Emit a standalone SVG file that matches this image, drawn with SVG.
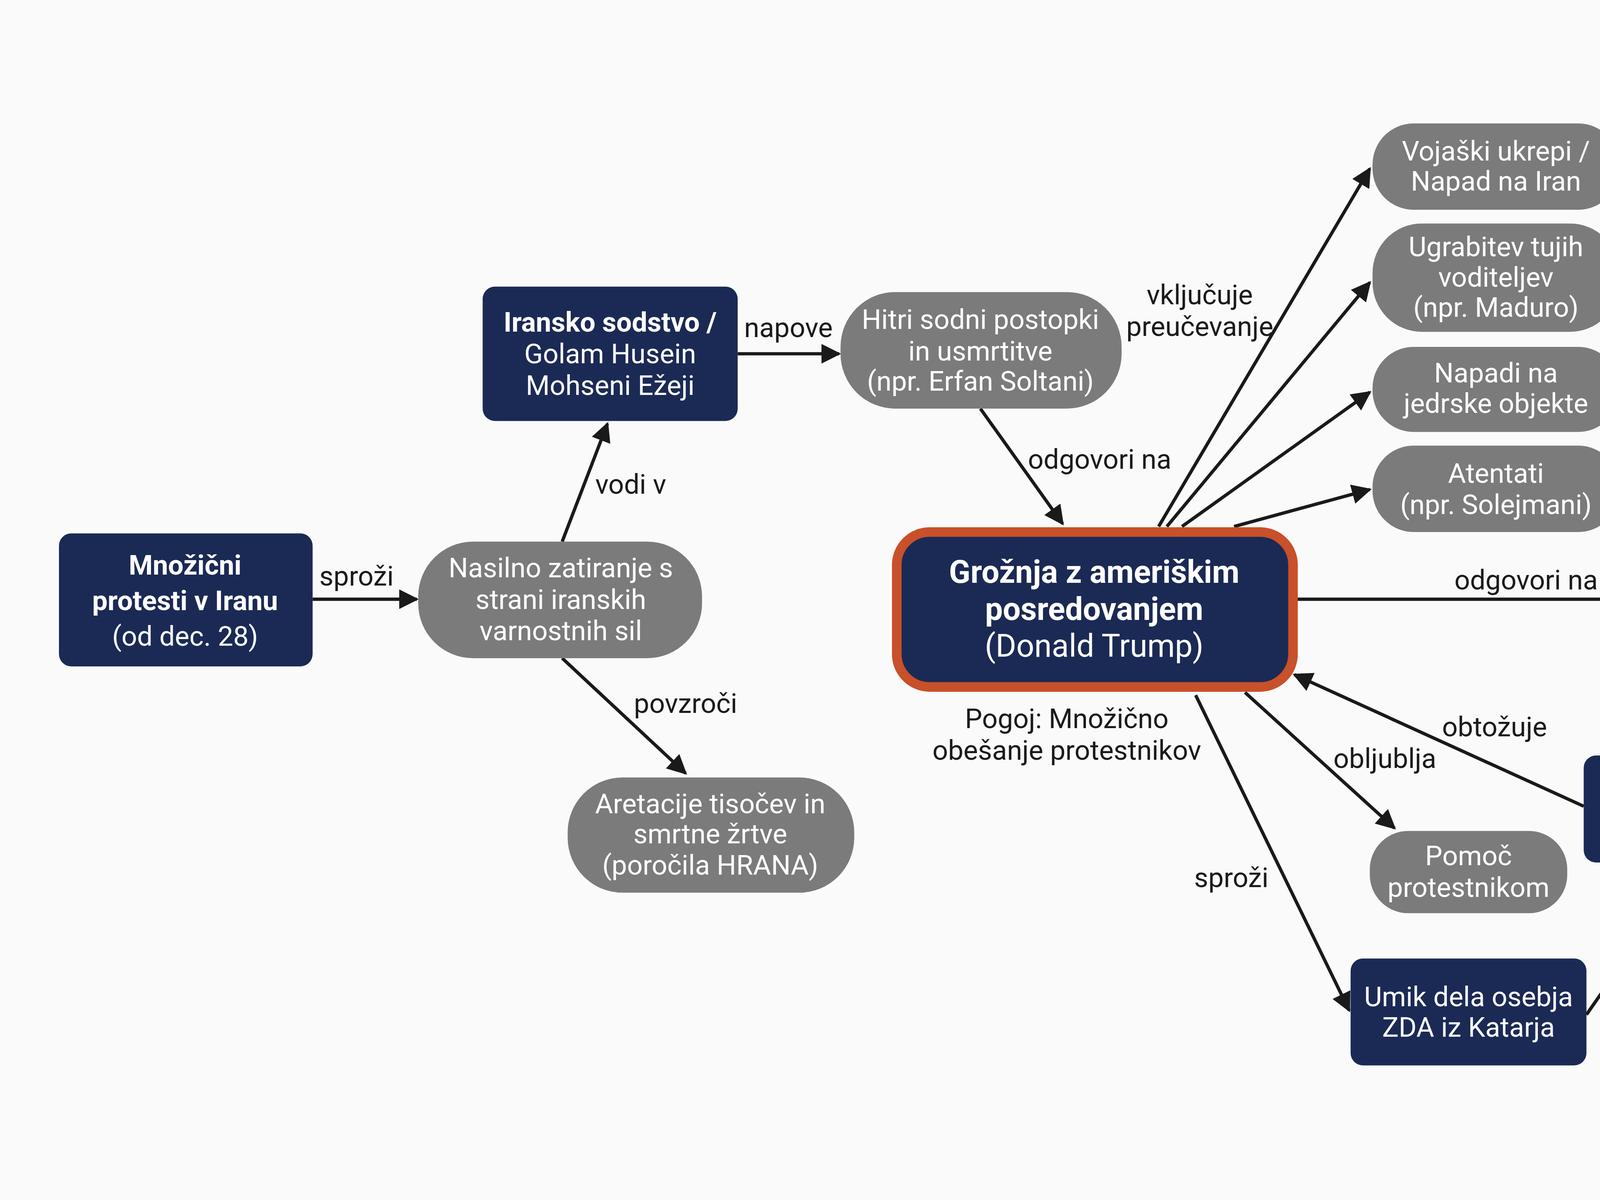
<svg xmlns="http://www.w3.org/2000/svg" width="5504" height="3072" viewBox="0 0 5504 3072">
<style>
.d{fill:#1b2a55}
.g{fill:#7b7b7b}
text{font-family:Roboto,"Liberation Sans",sans-serif;font-size:20px;text-anchor:middle}
.w{fill:#fff}
.b{font-weight:bold}
.l{fill:#1a1a1a}
.e{stroke:#1a1a1a;stroke-width:2.4;fill:none;marker-end:url(#a)}
</style>
<defs>
<marker id="a" viewBox="0 0 10 10" refX="9" refY="5" markerWidth="6" markerHeight="6" orient="auto" markerUnits="strokeWidth">
<path d="M0,0 L10,5 L0,10 z" fill="#1a1a1a"/>
</marker>
</defs>
<rect width="5504" height="3072" fill="#fafafa"/>
<g transform="scale(3.5102)">
<g id="connectors">
<line class="e" x1="228" y1="437" x2="304" y2="437"/>
<line class="e" x1="410" y1="395" x2="443" y2="309"/>
<line class="e" x1="410" y1="480" x2="500" y2="564"/>
<line class="e" x1="538" y1="258" x2="612" y2="258"/>
<line class="e" x1="715" y1="298" x2="775" y2="382"/>
<line class="e" x1="845" y1="384" x2="999" y2="123"/>
<line class="e" x1="851" y1="384" x2="999" y2="206"/>
<line class="e" x1="862" y1="384" x2="999" y2="286"/>
<line class="e" x1="900" y1="384" x2="999" y2="357"/>
<line class="e" x1="1181" y1="121" x2="1292" y2="128"/>
<line class="e" x1="945" y1="437" x2="1284" y2="437"/>
<line class="e" x1="1155" y1="588" x2="944" y2="492"/>
<line class="e" x1="908" y1="505" x2="1017" y2="604"/>
<line class="e" x1="872" y1="507" x2="984" y2="737"/>
<line class="e" x1="1335" y1="487" x2="1285" y2="549"/>
<line class="e" x1="1393" y1="487" x2="1428" y2="547"/>
<line class="e" x1="1157" y1="740" x2="1233" y2="631"/>
<text class="l" x="260" y="427">sproži</text>
<text class="l" x="460" y="360">vodi v</text>
<text class="l" x="500" y="520">povzroči</text>
<text class="l" x="575" y="246">napove</text>
<text class="l" x="802" y="342">odgovori na</text>
<text class="l" x="875" y="222">vključuje</text>
<text class="l" x="875" y="245">preučevanje</text>
<text class="l" x="1235" y="94">lahko</text>
<text class="l" x="1235" y="117">povzroči</text>
<text class="l" x="1113" y="430">odgovori na</text>
<text class="l" x="1090" y="537">obtožuje</text>
<text class="l" x="1010" y="560">obljublja</text>
<text class="l" x="898" y="647">sproži</text>
<text class="l" x="1245" y="517">pošlje pismo</text>
<text class="l" x="1482" y="507">prekine</text>
<text class="l" x="1482" y="529">komunikacijo</text>
<text class="l" x="1263" y="694">ZDA in Izrael</text>
<text class="l" x="1263" y="716">(odgovornost</text>
<text class="l" x="1263" y="739">za žrtve)</text>
<text class="l" x="778" y="531">Pogoj: Množično</text>
<text class="l" x="778" y="554">obešanje protestnikov</text>
</g>
<g id="n1"><rect class="d" x="43" y="389" width="185" height="97" rx="9"/>
<text class="w b" x="135" y="419">Množični</text><text class="w b" x="135" y="445">protesti v Iranu</text><text class="w" x="135" y="471">(od dec. 28)</text></g>
<g id="n2"><rect class="g" x="305" y="395" width="207" height="85" rx="40"/>
<text class="w" x="409" y="421">Nasilno zatiranje s</text><text class="w" x="409" y="444">strani iranskih</text><text class="w" x="409" y="467">varnostnih sil</text></g>
<g id="n3"><rect class="d" x="352" y="209" width="186" height="98" rx="9"/>
<text class="w b" x="445" y="242">Iransko sodstvo /</text><text class="w" x="445" y="265">Golam Husein</text><text class="w" x="445" y="288">Mohseni Ežeji</text></g>
<g id="n4"><rect class="g" x="613" y="213" width="205" height="85" rx="40"/>
<text class="w" x="715" y="240">Hitri sodni postopki</text><text class="w" x="715" y="263">in usmrtitve</text><text class="w" x="715" y="285">(npr. Erfan Soltani)</text></g>
<g id="n5"><rect class="g" x="414" y="567" width="209" height="84" rx="40"/>
<text class="w" x="518" y="593">Aretacije tisočev in</text><text class="w" x="518" y="615">smrtne žrtve</text><text class="w" x="518" y="638">(poročila HRANA)</text></g>
<g id="n6"><rect x="654" y="388" width="289" height="113" rx="24" fill="#1b2a55" stroke="#c8502a" stroke-width="7"/>
<text class="w b" x="798" y="425" style="font-size:23px">Grožnja z ameriškim</text><text class="w b" x="798" y="452" style="font-size:23px">posredovanjem</text><text class="w" x="798" y="479" style="font-size:23px">(Donald Trump)</text></g>
<g id="n7"><rect class="g" x="1001" y="90" width="180" height="63" rx="30"/>
<text class="w" x="1091" y="117">Vojaški ukrepi /</text><text class="w" x="1091" y="139">Napad na Iran</text></g>
<g id="n8"><rect class="g" x="1001" y="163" width="180" height="79" rx="36"/>
<text class="w" x="1091" y="187">Ugrabitev tujih</text><text class="w" x="1091" y="209">voditeljev</text><text class="w" x="1091" y="231">(npr. Maduro)</text></g>
<g id="n9"><rect class="g" x="1001" y="253" width="180" height="62" rx="30"/>
<text class="w" x="1091" y="279">Napadi na</text><text class="w" x="1091" y="301">jedrske objekte</text></g>
<g id="n10"><rect class="g" x="1001" y="325" width="180" height="63" rx="30"/>
<text class="w" x="1091" y="352">Atentati</text><text class="w" x="1091" y="375">(npr. Solejmani)</text></g>
<g id="n11"><rect class="g" x="1294" y="78" width="202" height="103" rx="40"/>
<text class="w" x="1395" y="103">Nasprotni učinek:</text><text class="w" x="1395" y="125">Nezadovoljstvo</text><text class="w" x="1395" y="147">prebivalstva</text><text class="w" x="1395" y="169">(Rand Paul)</text></g>
<g id="n12"><rect class="d" x="1286" y="391" width="185" height="95" rx="9"/>
<text class="w b" x="1378" y="422">Iran</text><text class="w" x="1378" y="445">(Vlada / Zunanje</text><text class="w" x="1378" y="468">ministrstvo)</text></g>
<g id="n13"><rect class="d" x="1155" y="551" width="182" height="78" rx="9"/>
<text class="w" x="1246" y="585">Varnostni svet ZN</text><text class="w" x="1246" y="608">Antonio Guterres</text></g>
<g id="n14"><rect class="g" x="1369" y="549" width="160" height="100" rx="38"/>
<text class="w" x="1449" y="572">Prekinitev</text><text class="w" x="1449" y="594">neposredne</text><text class="w" x="1449" y="617">komunikacije z</text><text class="w" x="1449" y="639">ZDA</text></g>
<g id="n15"><rect class="g" x="999" y="606" width="144" height="60" rx="28"/>
<text class="w" x="1071" y="631">Pomoč</text><text class="w" x="1071" y="654">protestnikom</text></g>
<g id="n16"><rect class="d" x="985" y="699" width="172" height="78" rx="9"/>
<text class="w" x="1071" y="734">Umik dela osebja</text><text class="w" x="1071" y="756">ZDA iz Katarja</text></g>
</g>
</svg>
